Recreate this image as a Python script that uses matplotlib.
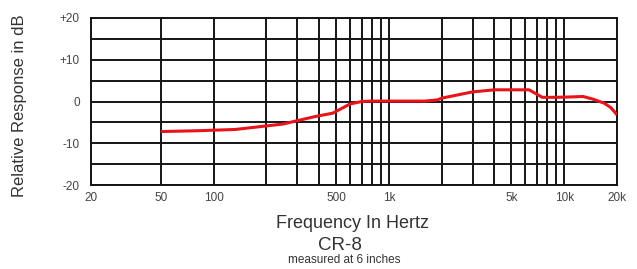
import matplotlib
matplotlib.use("Agg")
import matplotlib.pyplot as plt
from matplotlib.ticker import NullFormatter

# Data
freq_hz = [50, 81, 133, 195, 249, 300, 380, 478, 600, 700, 790, 1000, 1600, 1900, 2000,
           3000, 4000, 5000, 6300, 7500, 9000, 11000, 12800, 14500, 16900, 18500, 20000]
response_db = [-7.2, -7.0, -6.7, -5.9, -5.4, -4.6, -3.6, -2.8, -0.6, 0.0, 0.1, 0.1, 0.1, 0.4, 0.8,
               2.3, 2.8, 2.8, 2.8, 1.0, 1.0, 1.1, 1.2, 0.6, -0.4, -1.5, -3.2]

x_label_ticks = [20, 50, 100, 500, 1000, 5000, 10000, 20000]
x_label_texts = ["20", "50", "100", "500", "1k", "5k", "10k", "20k"]
x_grid_minor = [200, 300, 400, 600, 700, 800, 900, 2000, 3000, 4000, 6000, 7000, 8000, 9000]
y_ticks = [-20, -10, 0, 10, 20]
y_tick_texts = ["-20", "-10", "0", "+10", "+20"]
y_grid_minor = [-15, -5, 5, 15]

plt.rcParams['font.family'] = ['Liberation Sans', 'DejaVu Sans']

fig = plt.figure(figsize=(6.37, 2.69), dpi=100)
ax = fig.add_axes([91/637, 1-185/269, (617-91)/637, (185-18)/269])

ax.set_xscale('log')
ax.set_xlim(20, 20000)
ax.set_ylim(-20, 20)

ax.set_xticks(x_label_ticks)
ax.set_xticklabels(x_label_texts)
ax.set_xticks(x_grid_minor, minor=True)
ax.xaxis.set_minor_formatter(NullFormatter())
ax.set_yticks(y_ticks)
ax.set_yticklabels(y_tick_texts)
ax.set_yticks(y_grid_minor, minor=True)

ax.grid(True, which='both', color='#151515', linewidth=1.4)
ax.set_axisbelow(True)
ax.tick_params(which='both', length=0)
ax.tick_params(axis='x', pad=5, labelsize=8.5, labelcolor='#444444')
ax.tick_params(axis='y', pad=8, labelsize=8.5, labelcolor='#444444')
for s in ax.spines.values():
    s.set_color('#151515')
    s.set_linewidth(1.4)

ax.plot(freq_hz, response_db, color='#e8141a', linewidth=2.2, solid_capstyle='butt', zorder=3)

fig.text(20/637, 1-106/269, "Relative Response in dB", rotation=90, ha='center', va='center',
         fontsize=12, color='#333333')
fig.text(352/637, 1-223/269, "Frequency In Hertz", ha='center', va='center', fontsize=13, color='#333333')
fig.text(340/637, 1-246/269, "CR-8", ha='center', va='center', fontsize=13.5, color='#333333')
fig.text(344/637, 1-260/269, "measured at 6 inches", ha='center', va='center', fontsize=8.5, color='#333333')

fig.savefig("out.png", dpi=100)
